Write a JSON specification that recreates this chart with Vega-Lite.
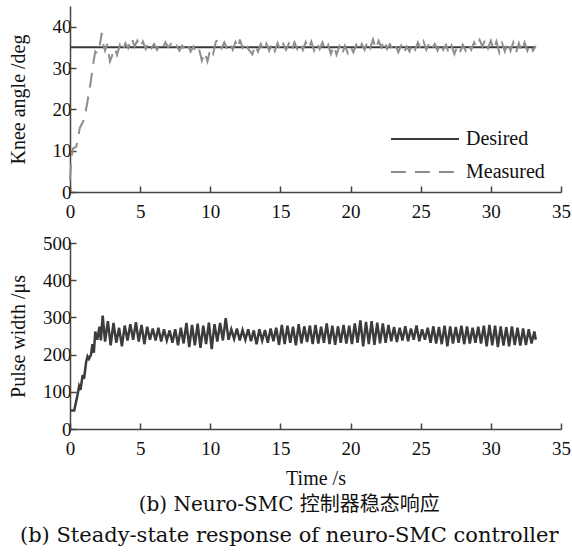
{
 "$schema": "https://vega.github.io/schema/vega-lite/v6.json",
 "padding": {"left": 8, "top": 6, "right": 4, "bottom": 2},
 "background": "white",
 "spacing": 13,
 "title": {"text": "(b) Neuro-SMC 控制器稳态响应", "subtitle": "(b) Steady-state response of neuro-SMC controller", "orient": "bottom", "anchor": "middle", "font": "DejaVu Serif, Noto Sans CJK SC", "fontSize": 20, "fontWeight": "normal", "subtitleFont": "DejaVu Serif", "subtitleFontSize": 21, "subtitlePadding": 10, "offset": 7, "color": "#111", "subtitleColor": "#111"},
 "config": {
  "view": {"stroke": null},
  "font": "Liberation Serif",
  "axis": {"domainColor": "#444", "domainWidth": 1.5, "tickColor": "#444", "tickWidth": 1.5, "tickSize": -6, "labelFont": "Liberation Serif", "labelFontSize": 19, "labelColor": "#111", "labelFlush": false, "titleFont": "Liberation Serif", "titleFontSize": 20, "titleFontWeight": "normal", "titleColor": "#111", "grid": false},
  "axisY": {"minExtent": 34, "maxExtent": 34, "titlePadding": 8, "labelPadding": 5},
  "axisX": {"titlePadding": 10, "labelPadding": 16}
 },
 "datasets": {
  "angle": [
   {"t": 0, "v": 35, "s": "Desired"}, {"t": 33.2, "v": 35, "s": "Desired"},
   {"t": 0, "v": 3, "s": "Measured"}, {"t": 0.1, "v": 8, "s": "Measured"}, {"t": 0.2, "v": 10.5, "s": "Measured"}, {"t": 0.45, "v": 11, "s": "Measured"}, {"t": 0.7, "v": 15.5, "s": "Measured"}, {"t": 0.85, "v": 16.5, "s": "Measured"}, {"t": 1.0, "v": 17.5, "s": "Measured"}, {"t": 1.2, "v": 21, "s": "Measured"}, {"t": 1.45, "v": 26, "s": "Measured"}, {"t": 1.7, "v": 32, "s": "Measured"}, {"t": 1.8, "v": 34, "s": "Measured"}, {"t": 1.95, "v": 33.5, "s": "Measured"}, {"t": 2.1, "v": 35, "s": "Measured"}, {"t": 2.26, "v": 38.5, "s": "Measured"}, {"t": 2.38, "v": 35.5, "s": "Measured"}, {"t": 2.5, "v": 34.2, "s": "Measured"}, {"t": 2.65, "v": 35.8, "s": "Measured"}, {"t": 2.85, "v": 31.6, "s": "Measured"}, {"t": 3.0, "v": 33, "s": "Measured"}, {"t": 3.2, "v": 34.8, "s": "Measured"}, {"t": 3.35, "v": 33.2, "s": "Measured"}, {"t": 3.56, "v": 35.6, "s": "Measured"}, {"t": 3.75, "v": 34.2, "s": "Measured"}, {"t": 3.95, "v": 36, "s": "Measured"}, {"t": 4.15, "v": 34.8, "s": "Measured"}, {"t": 4.4, "v": 37.3, "s": "Measured"}, {"t": 4.6, "v": 35.2, "s": "Measured"}, {"t": 4.8, "v": 36.6, "s": "Measured"}, {"t": 5.0, "v": 35, "s": "Measured"}, {"t": 5.2, "v": 36.4, "s": "Measured"}, {"t": 5.4, "v": 34.6, "s": "Measured"}, {"t": 5.6, "v": 36.2, "s": "Measured"}, {"t": 5.8, "v": 34.8, "s": "Measured"}, {"t": 6.0, "v": 35.8, "s": "Measured"}, {"t": 6.2, "v": 34.4, "s": "Measured"}, {"t": 6.4, "v": 35.6, "s": "Measured"}, {"t": 6.6, "v": 34.8, "s": "Measured"}, {"t": 6.8, "v": 36.2, "s": "Measured"}, {"t": 7.0, "v": 35, "s": "Measured"}, {"t": 7.2, "v": 35.8, "s": "Measured"}, {"t": 7.4, "v": 34.6, "s": "Measured"}, {"t": 7.6, "v": 35.4, "s": "Measured"}, {"t": 7.8, "v": 34.2, "s": "Measured"}, {"t": 8.0, "v": 35.4, "s": "Measured"}, {"t": 8.2, "v": 34.4, "s": "Measured"}, {"t": 8.4, "v": 35.6, "s": "Measured"}, {"t": 8.6, "v": 34, "s": "Measured"}, {"t": 8.8, "v": 35.2, "s": "Measured"}, {"t": 9.0, "v": 33.6, "s": "Measured"}, {"t": 9.2, "v": 34.6, "s": "Measured"}, {"t": 9.4, "v": 31.8, "s": "Measured"}, {"t": 9.6, "v": 33.8, "s": "Measured"}, {"t": 9.8, "v": 31.6, "s": "Measured"}, {"t": 10.0, "v": 34.6, "s": "Measured"}, {"t": 10.2, "v": 33.4, "s": "Measured"}, {"t": 10.4, "v": 36.4, "s": "Measured"}, {"t": 10.6, "v": 36.9, "s": "Measured"}, {"t": 10.8, "v": 34.8, "s": "Measured"}, {"t": 11.0, "v": 36.2, "s": "Measured"}, {"t": 11.2, "v": 34.6, "s": "Measured"}, {"t": 11.4, "v": 36, "s": "Measured"}, {"t": 11.6, "v": 34.4, "s": "Measured"}, {"t": 11.8, "v": 36.3, "s": "Measured"}, {"t": 12.0, "v": 34.8, "s": "Measured"}, {"t": 12.1, "v": 36.9, "s": "Measured"}, {"t": 12.3, "v": 35, "s": "Measured"}, {"t": 12.5, "v": 36.4, "s": "Measured"}, {"t": 12.7, "v": 34.6, "s": "Measured"}, {"t": 13.0, "v": 33.3, "s": "Measured"}, {"t": 13.2, "v": 35.6, "s": "Measured"}, {"t": 13.4, "v": 34, "s": "Measured"}, {"t": 13.6, "v": 35.8, "s": "Measured"}, {"t": 13.8, "v": 34.2, "s": "Measured"}, {"t": 14.0, "v": 35.9, "s": "Measured"}, {"t": 14.2, "v": 34.2, "s": "Measured"}, {"t": 14.4, "v": 36, "s": "Measured"}, {"t": 14.6, "v": 34.1, "s": "Measured"}, {"t": 14.8, "v": 36, "s": "Measured"}, {"t": 15.0, "v": 34.2, "s": "Measured"}, {"t": 15.2, "v": 35.8, "s": "Measured"}, {"t": 15.4, "v": 34.4, "s": "Measured"}, {"t": 15.6, "v": 35.9, "s": "Measured"}, {"t": 15.8, "v": 34.2, "s": "Measured"}, {"t": 16.0, "v": 36.2, "s": "Measured"}, {"t": 16.2, "v": 34.6, "s": "Measured"}, {"t": 16.4, "v": 36.1, "s": "Measured"}, {"t": 16.6, "v": 34.4, "s": "Measured"}, {"t": 16.8, "v": 36.3, "s": "Measured"}, {"t": 17.0, "v": 34.6, "s": "Measured"}, {"t": 17.2, "v": 36.4, "s": "Measured"}, {"t": 17.4, "v": 34.2, "s": "Measured"}, {"t": 17.6, "v": 36, "s": "Measured"}, {"t": 17.8, "v": 34.6, "s": "Measured"}, {"t": 18.0, "v": 36.2, "s": "Measured"}, {"t": 18.2, "v": 34.4, "s": "Measured"}, {"t": 18.4, "v": 35.6, "s": "Measured"}, {"t": 18.6, "v": 33.4, "s": "Measured"}, {"t": 18.8, "v": 35.4, "s": "Measured"}, {"t": 19.0, "v": 33.2, "s": "Measured"}, {"t": 19.2, "v": 35.2, "s": "Measured"}, {"t": 19.4, "v": 33.3, "s": "Measured"}, {"t": 19.6, "v": 35.4, "s": "Measured"}, {"t": 19.8, "v": 33.6, "s": "Measured"}, {"t": 20.0, "v": 35.2, "s": "Measured"}, {"t": 20.2, "v": 33.8, "s": "Measured"}, {"t": 20.4, "v": 35.6, "s": "Measured"}, {"t": 20.6, "v": 34.2, "s": "Measured"}, {"t": 20.8, "v": 35.8, "s": "Measured"}, {"t": 21.0, "v": 34.4, "s": "Measured"}, {"t": 21.2, "v": 36.4, "s": "Measured"}, {"t": 21.4, "v": 34.8, "s": "Measured"}, {"t": 21.6, "v": 36.9, "s": "Measured"}, {"t": 21.8, "v": 34.6, "s": "Measured"}, {"t": 22.0, "v": 36.6, "s": "Measured"}, {"t": 22.2, "v": 35, "s": "Measured"}, {"t": 22.4, "v": 36.8, "s": "Measured"}, {"t": 22.6, "v": 34.6, "s": "Measured"}, {"t": 22.8, "v": 35.8, "s": "Measured"}, {"t": 23.0, "v": 34.4, "s": "Measured"}, {"t": 23.2, "v": 35.6, "s": "Measured"}, {"t": 23.4, "v": 33.8, "s": "Measured"}, {"t": 23.6, "v": 35.4, "s": "Measured"}, {"t": 23.8, "v": 33.6, "s": "Measured"}, {"t": 24.0, "v": 35.2, "s": "Measured"}, {"t": 24.2, "v": 34, "s": "Measured"}, {"t": 24.4, "v": 35.8, "s": "Measured"}, {"t": 24.6, "v": 34.4, "s": "Measured"}, {"t": 24.8, "v": 36.2, "s": "Measured"}, {"t": 25.0, "v": 34.6, "s": "Measured"}, {"t": 25.2, "v": 36.4, "s": "Measured"}, {"t": 25.4, "v": 34.4, "s": "Measured"}, {"t": 25.6, "v": 36, "s": "Measured"}, {"t": 25.8, "v": 34.6, "s": "Measured"}, {"t": 26.0, "v": 35.8, "s": "Measured"}, {"t": 26.2, "v": 34.2, "s": "Measured"}, {"t": 26.4, "v": 36, "s": "Measured"}, {"t": 26.6, "v": 34.4, "s": "Measured"}, {"t": 26.8, "v": 35.6, "s": "Measured"}, {"t": 27.0, "v": 33.6, "s": "Measured"}, {"t": 27.2, "v": 35.4, "s": "Measured"}, {"t": 27.4, "v": 33.4, "s": "Measured"}, {"t": 27.6, "v": 35.2, "s": "Measured"}, {"t": 27.8, "v": 33.8, "s": "Measured"}, {"t": 28.0, "v": 35.6, "s": "Measured"}, {"t": 28.2, "v": 34.2, "s": "Measured"}, {"t": 28.4, "v": 35.8, "s": "Measured"}, {"t": 28.6, "v": 34.4, "s": "Measured"}, {"t": 28.8, "v": 36.2, "s": "Measured"}, {"t": 29.0, "v": 35, "s": "Measured"}, {"t": 29.2, "v": 36.8, "s": "Measured"}, {"t": 29.4, "v": 35.2, "s": "Measured"}, {"t": 29.6, "v": 36.9, "s": "Measured"}, {"t": 29.8, "v": 34.8, "s": "Measured"}, {"t": 30.0, "v": 36.6, "s": "Measured"}, {"t": 30.2, "v": 34.4, "s": "Measured"}, {"t": 30.4, "v": 36.4, "s": "Measured"}, {"t": 30.6, "v": 33.8, "s": "Measured"}, {"t": 30.8, "v": 36, "s": "Measured"}, {"t": 31.0, "v": 34, "s": "Measured"}, {"t": 31.2, "v": 36.4, "s": "Measured"}, {"t": 31.4, "v": 34.2, "s": "Measured"}, {"t": 31.6, "v": 36.2, "s": "Measured"}, {"t": 31.8, "v": 33.8, "s": "Measured"}, {"t": 32.0, "v": 36, "s": "Measured"}, {"t": 32.2, "v": 34, "s": "Measured"}, {"t": 32.4, "v": 36.2, "s": "Measured"}, {"t": 32.6, "v": 34.2, "s": "Measured"}, {"t": 32.8, "v": 35.8, "s": "Measured"}, {"t": 33.0, "v": 34.2, "s": "Measured"}, {"t": 33.2, "v": 35.4, "s": "Measured"}
  ],
  "pw": [
   {"t": 0, "v": 50}, {"t": 0.3, "v": 50}, {"t": 0.5, "v": 85}, {"t": 0.65, "v": 115}, {"t": 0.75, "v": 105}, {"t": 0.9, "v": 145}, {"t": 1.0, "v": 135}, {"t": 1.15, "v": 180}, {"t": 1.25, "v": 195}, {"t": 1.35, "v": 188}, {"t": 1.5, "v": 200}, {"t": 1.6, "v": 228}, {"t": 1.7, "v": 205}, {"t": 1.8, "v": 262}, {"t": 1.95, "v": 240}, {"t": 2.1, "v": 275}, {"t": 2.2, "v": 238}, {"t": 2.33, "v": 305}, {"t": 2.5, "v": 235},
   {"t": 2.7, "v": 290}, {"t": 2.9, "v": 225}, {"t": 3.1, "v": 285}, {"t": 3.3, "v": 232}, {"t": 3.5, "v": 272}, {"t": 3.7, "v": 222}, {"t": 3.9, "v": 278}, {"t": 4.1, "v": 238}, {"t": 4.3, "v": 282}, {"t": 4.5, "v": 240}, {"t": 4.7, "v": 287}, {"t": 4.9, "v": 235}, {"t": 5.1, "v": 280}, {"t": 5.3, "v": 228}, {"t": 5.5, "v": 275}, {"t": 5.7, "v": 240}, {"t": 5.9, "v": 270}, {"t": 6.1, "v": 238}, {"t": 6.3, "v": 272}, {"t": 6.5, "v": 235}, {"t": 6.7, "v": 268}, {"t": 6.9, "v": 238}, {"t": 7.1, "v": 265}, {"t": 7.3, "v": 232}, {"t": 7.5, "v": 268}, {"t": 7.7, "v": 225}, {"t": 7.9, "v": 272}, {"t": 8.1, "v": 230}, {"t": 8.3, "v": 285}, {"t": 8.5, "v": 220}, {"t": 8.7, "v": 280}, {"t": 8.9, "v": 225}, {"t": 9.1, "v": 283}, {"t": 9.3, "v": 218}, {"t": 9.5, "v": 278}, {"t": 9.7, "v": 228}, {"t": 9.9, "v": 286}, {"t": 10.1, "v": 215}, {"t": 10.3, "v": 282}, {"t": 10.5, "v": 235}, {"t": 10.7, "v": 285}, {"t": 10.9, "v": 238}, {"t": 11.1, "v": 298}, {"t": 11.3, "v": 240}, {"t": 11.5, "v": 268}, {"t": 11.7, "v": 242}, {"t": 11.9, "v": 270}, {"t": 12.1, "v": 238}, {"t": 12.3, "v": 266}, {"t": 12.5, "v": 240}, {"t": 12.7, "v": 268}, {"t": 12.9, "v": 236}, {"t": 13.1, "v": 265}, {"t": 13.3, "v": 228}, {"t": 13.5, "v": 268}, {"t": 13.7, "v": 238}, {"t": 13.9, "v": 266}, {"t": 14.1, "v": 232}, {"t": 14.3, "v": 270}, {"t": 14.5, "v": 236}, {"t": 14.7, "v": 272}, {"t": 14.9, "v": 226}, {"t": 15.1, "v": 280}, {"t": 15.3, "v": 228}, {"t": 15.5, "v": 278}, {"t": 15.7, "v": 232}, {"t": 15.9, "v": 275}, {"t": 16.1, "v": 225}, {"t": 16.3, "v": 282}, {"t": 16.5, "v": 230}, {"t": 16.7, "v": 276}, {"t": 16.9, "v": 234}, {"t": 17.1, "v": 278}, {"t": 17.3, "v": 228}, {"t": 17.5, "v": 280}, {"t": 17.7, "v": 230}, {"t": 17.9, "v": 275}, {"t": 18.1, "v": 232}, {"t": 18.3, "v": 284}, {"t": 18.5, "v": 228}, {"t": 18.7, "v": 278}, {"t": 18.9, "v": 226}, {"t": 19.1, "v": 276}, {"t": 19.3, "v": 232}, {"t": 19.5, "v": 280}, {"t": 19.7, "v": 230}, {"t": 19.9, "v": 278}, {"t": 20.1, "v": 228}, {"t": 20.3, "v": 284}, {"t": 20.5, "v": 232}, {"t": 20.7, "v": 292}, {"t": 20.9, "v": 222}, {"t": 21.1, "v": 288}, {"t": 21.3, "v": 228}, {"t": 21.5, "v": 290}, {"t": 21.7, "v": 226}, {"t": 21.9, "v": 286}, {"t": 22.1, "v": 230}, {"t": 22.3, "v": 284}, {"t": 22.5, "v": 232}, {"t": 22.7, "v": 280}, {"t": 22.9, "v": 236}, {"t": 23.1, "v": 274}, {"t": 23.3, "v": 234}, {"t": 23.5, "v": 272}, {"t": 23.7, "v": 238}, {"t": 23.9, "v": 276}, {"t": 24.1, "v": 236}, {"t": 24.3, "v": 270}, {"t": 24.5, "v": 240}, {"t": 24.7, "v": 278}, {"t": 24.9, "v": 236}, {"t": 25.1, "v": 268}, {"t": 25.3, "v": 240}, {"t": 25.5, "v": 272}, {"t": 25.7, "v": 232}, {"t": 25.9, "v": 276}, {"t": 26.1, "v": 230}, {"t": 26.3, "v": 274}, {"t": 26.5, "v": 228}, {"t": 26.7, "v": 278}, {"t": 26.9, "v": 222}, {"t": 27.1, "v": 276}, {"t": 27.3, "v": 230}, {"t": 27.5, "v": 274}, {"t": 27.7, "v": 232}, {"t": 27.9, "v": 278}, {"t": 28.1, "v": 228}, {"t": 28.3, "v": 276}, {"t": 28.5, "v": 230}, {"t": 28.7, "v": 272}, {"t": 28.9, "v": 232}, {"t": 29.1, "v": 275}, {"t": 29.3, "v": 230}, {"t": 29.5, "v": 278}, {"t": 29.7, "v": 222}, {"t": 29.9, "v": 280}, {"t": 30.1, "v": 225}, {"t": 30.3, "v": 278}, {"t": 30.5, "v": 220}, {"t": 30.7, "v": 276}, {"t": 30.9, "v": 224}, {"t": 31.1, "v": 274}, {"t": 31.3, "v": 222}, {"t": 31.5, "v": 276}, {"t": 31.7, "v": 226}, {"t": 31.9, "v": 272}, {"t": 32.1, "v": 224}, {"t": 32.3, "v": 270}, {"t": 32.5, "v": 226}, {"t": 32.7, "v": 268}, {"t": 32.9, "v": 230}, {"t": 33.1, "v": 262}, {"t": 33.2, "v": 240}
  ]
 },
 "vconcat": [
  {
   "width": 491, "height": 186,
   "data": {"name": "angle"},
   "mark": {"type": "line", "strokeWidth": 2},
   "encoding": {
    "x": {"field": "t", "type": "quantitative", "scale": {"domain": [0, 35]}, "axis": {"values": [0, 5, 10, 15, 20, 25, 30, 35], "title": null}},
    "y": {"field": "v", "type": "quantitative", "scale": {"domain": [0, 45]}, "axis": {"values": [0, 10, 20, 30, 40], "title": "Knee angle /deg"}},
    "color": {"field": "s", "type": "nominal", "scale": {"domain": ["Desired", "Measured"], "range": ["#3a3a3a", "#8e8e8e"]},
     "legend": {"title": null, "orient": "none", "legendX": 345, "legendY": 123, "padding": 0, "symbolType": "M-5,0H5", "symbolSize": 185, "symbolStrokeWidth": 2, "labelFont": "Liberation Serif", "labelFontSize": 20, "labelColor": "#111", "labelOffset": 31, "rowPadding": 13}},
    "strokeDash": {"field": "s", "type": "nominal", "scale": {"domain": ["Desired", "Measured"], "range": [[1, 0], [15, 9]]},
     "legend": {"title": null, "orient": "none", "legendX": 345, "legendY": 123, "padding": 0, "symbolType": "M-5,0H5", "symbolSize": 185, "symbolStrokeWidth": 2, "labelFont": "Liberation Serif", "labelFontSize": 20, "labelColor": "#111", "labelOffset": 31, "rowPadding": 13}}
   }
  },
  {
   "width": 491, "height": 186,
   "data": {"name": "pw"},
   "mark": {"type": "line", "color": "#3c3c3c", "strokeWidth": 2.5},
   "encoding": {
    "x": {"field": "t", "type": "quantitative", "scale": {"domain": [0, 35]}, "axis": {"values": [0, 5, 10, 15, 20, 25, 30, 35], "title": "Time /s"}},
    "y": {"field": "v", "type": "quantitative", "scale": {"domain": [0, 500]}, "axis": {"values": [0, 100, 200, 300, 400, 500], "title": "Pulse width /μs"}}
   }
  }
 ]
}
